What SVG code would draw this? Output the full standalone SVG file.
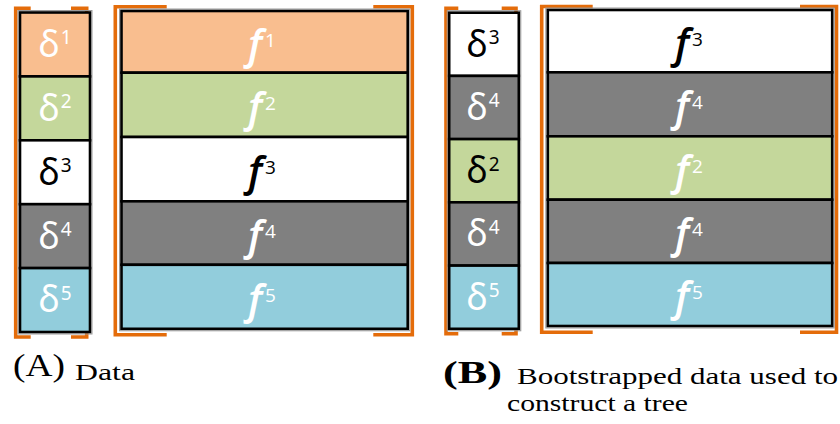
<svg xmlns="http://www.w3.org/2000/svg" width="840" height="424" viewBox="0 0 840 424">
<style>
.b{fill:none;stroke:#E46C0A;stroke-width:3.6}
.cell{stroke:#000;stroke-width:2.6}
.out{fill:none;stroke:#9a9a9a;stroke-width:1}
.o{fill:#F9BE8F}.g{fill:#C4D79B}.w{fill:#fff}.k{fill:#808080}.c{fill:#92CDDC}
.d{font-family:"Noto Sans","Open Sans",sans-serif;font-size:36px;text-anchor:middle}
.f{font-family:"Open Sans","Noto Sans",sans-serif;font-style:italic;font-weight:600;font-size:41px;text-anchor:middle}
.s{font-size:19px;font-style:normal;font-weight:400}
.tw{fill:#fff}.tb{fill:#000}
.cap{font-family:"Liberation Serif","Times New Roman",serif;fill:#000}
</style>
<rect width="840" height="424" fill="#fff"/>
<g id="brackets">
<path class="b" d="M30.7,8.3H15.7V337H30.7M71,8.3H86.7V337H71"/>
<path class="b" d="M166.7,6.7H115.3V334.7H166.7M373.3,6.7H412.3V334.7H373.3"/>
<path class="b" d="M458.3,8.3H446V333.8H458.3M501.7,8.3H516V333.8H501.7"/>
<path class="b" d="M592.7,6.5H541.7V332.2H592.7M800,6.5H836.5V332.2H800"/>
</g>
<g id="colA-delta">
<rect class="out" x="18" y="10.5" width="74" height="323.5"/>
<g id="A-d1"><rect class="cell o" x="20" y="12.5" width="70" height="63.9"/><text class="d tw" x="55" y="56.8">δ<tspan class="s" dx="1" dy="-12.5">1</tspan></text></g>
<g id="A-d2"><rect class="cell g" x="20" y="76.4" width="70" height="63.9"/><text class="d tw" x="55" y="120.7">δ<tspan class="s" dx="1" dy="-12.5">2</tspan></text></g>
<g id="A-d3"><rect class="cell w" x="20" y="140.3" width="70" height="63.9"/><text class="d tb" x="55" y="184.6">δ<tspan class="s" dx="1" dy="-12.5">3</tspan></text></g>
<g id="A-d4"><rect class="cell k" x="20" y="204.2" width="70" height="63.9"/><text class="d tw" x="55" y="248.5">δ<tspan class="s" dx="1" dy="-12.5">4</tspan></text></g>
<g id="A-d5"><rect class="cell c" x="20" y="268.1" width="70" height="63.9"/><text class="d tw" x="55" y="312.4">δ<tspan class="s" dx="1" dy="-12.5">5</tspan></text></g>
</g>
<g id="colA-f">
<rect class="out" x="119.5" y="9" width="290.2" height="321.8"/>
<g id="A-f1"><rect class="cell o" x="121.5" y="11" width="286.2" height="61.7"/><text class="f tw" x="262" y="58.5">f<tspan class="s" dx="3" dy="-12">1</tspan></text></g>
<g id="A-f2"><rect class="cell g" x="121.5" y="72.7" width="286.2" height="64.3"/><text class="f tw" x="262" y="121.5">f<tspan class="s" dx="3" dy="-12">2</tspan></text></g>
<g id="A-f3"><rect class="cell w" x="121.5" y="137" width="286.2" height="64.3"/><text class="f tb" x="262" y="185.8">f<tspan class="s" dx="3" dy="-12">3</tspan></text></g>
<g id="A-f4"><rect class="cell k" x="121.5" y="201.3" width="286.2" height="63.5"/><text class="f tw" x="262" y="249.7">f<tspan class="s" dx="3" dy="-12">4</tspan></text></g>
<g id="A-f5"><rect class="cell c" x="121.5" y="264.8" width="286.2" height="64"/><text class="f tw" x="262" y="313.5">f<tspan class="s" dx="3" dy="-12">5</tspan></text></g>
</g>
<g id="colB-delta">
<rect class="out" x="447.2" y="10.7" width="73.6" height="320.1"/>
<g id="B-d1"><rect class="cell w" x="449.2" y="12.7" width="69.6" height="63.2"/><text class="d tb" x="483" y="56.6">δ<tspan class="s" dx="1" dy="-12.5">3</tspan></text></g>
<g id="B-d2"><rect class="cell k" x="449.2" y="75.9" width="69.6" height="63.2"/><text class="d tw" x="483" y="119.8">δ<tspan class="s" dx="1" dy="-12.5">4</tspan></text></g>
<g id="B-d3"><rect class="cell g" x="449.2" y="139.1" width="69.6" height="63.2"/><text class="d tb" x="483" y="183">δ<tspan class="s" dx="1" dy="-12.5">2</tspan></text></g>
<g id="B-d4"><rect class="cell k" x="449.2" y="202.3" width="69.6" height="63.3"/><text class="d tw" x="483" y="246.3">δ<tspan class="s" dx="1" dy="-12.5">4</tspan></text></g>
<g id="B-d5"><rect class="cell c" x="449.2" y="265.6" width="69.6" height="63.2"/><text class="d tw" x="483" y="309.5">δ<tspan class="s" dx="1" dy="-12.5">5</tspan></text></g>
</g>
<g id="colB-f">
<rect class="out" x="545.8" y="8" width="288.4" height="320"/>
<g id="B-f1"><rect class="cell w" x="547.8" y="10" width="284.4" height="62.3"/><text class="f tb" x="689" y="57.9">f<tspan class="s" dx="3" dy="-12">3</tspan></text></g>
<g id="B-f2"><rect class="cell k" x="547.8" y="72.3" width="284.4" height="64"/><text class="f tw" x="689" y="121">f<tspan class="s" dx="3" dy="-12">4</tspan></text></g>
<g id="B-f3"><rect class="cell g" x="547.8" y="136.3" width="284.4" height="63.4"/><text class="f tw" x="689" y="184.7">f<tspan class="s" dx="3" dy="-12">2</tspan></text></g>
<g id="B-f4"><rect class="cell k" x="547.8" y="199.7" width="284.4" height="63.3"/><text class="f tw" x="689" y="248">f<tspan class="s" dx="3" dy="-12">4</tspan></text></g>
<g id="B-f5"><rect class="cell c" x="547.8" y="263" width="284.4" height="63"/><text class="f tw" x="689" y="311.2">f<tspan class="s" dx="3" dy="-12">5</tspan></text></g>
</g>
<g id="captions">
<text class="cap" x="13" y="376" font-size="31" textLength="52" lengthAdjust="spacingAndGlyphs">(A)</text>
<text class="cap" x="75" y="380" font-size="23" textLength="60" lengthAdjust="spacingAndGlyphs">Data</text>
<text class="cap" x="443" y="383" font-size="32" font-weight="bold" textLength="59" lengthAdjust="spacingAndGlyphs">(B)</text>
<text class="cap" x="517" y="384" font-size="24" textLength="321" lengthAdjust="spacingAndGlyphs">Bootstrapped data used to</text>
<text class="cap" x="507" y="411" font-size="24" textLength="181" lengthAdjust="spacingAndGlyphs">construct a tree</text>
</g>
</svg>
